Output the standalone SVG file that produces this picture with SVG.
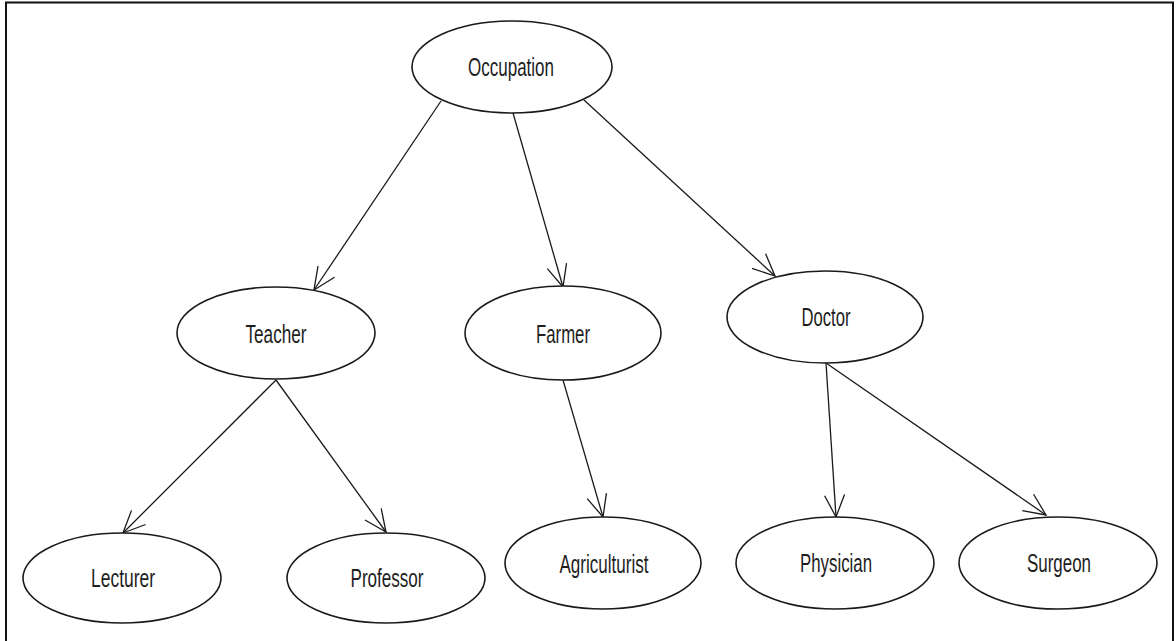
<svg xmlns="http://www.w3.org/2000/svg" width="1176" height="641" viewBox="0 0 1176 641">
  <style>
    .node ellipse { fill: #ffffff; stroke: #1a1a1a; stroke-width: 1.6; }
    .node text { font-family: "Liberation Sans", Arial, sans-serif; font-size: 26px; fill: #1e1e1e; text-anchor: middle; }
    .edge { fill: none; stroke: #1a1a1a; stroke-width: 1.3; marker-end: url(#vhead); }
  </style>
  <defs>
    <marker id="vhead" markerUnits="userSpaceOnUse" viewBox="0 0 26 22" refX="24" refY="11" markerWidth="26" markerHeight="22" orient="auto">
      <path d="M2,1 L24,11 L2,21" fill="none" stroke="#1a1a1a" stroke-width="1.3"/>
    </marker>
  </defs>
  <rect width="1176" height="641" fill="#ffffff"/>
  <!-- frame -->
  <path d="M6,641 V2.5 H1173 V641" fill="none" stroke="#111" stroke-width="2"/>

  <g id="connectors">
    <line class="edge" x1="441" y1="101" x2="314" y2="290"/>
    <line class="edge" x1="513" y1="113" x2="563" y2="287"/>
    <line class="edge" x1="584" y1="100" x2="775" y2="276"/>
    <line class="edge" x1="276" y1="380" x2="123" y2="533"/>
    <line class="edge" x1="276" y1="380" x2="386" y2="532"/>
    <line class="edge" x1="563" y1="380" x2="603" y2="517"/>
    <line class="edge" x1="826" y1="363" x2="836" y2="517"/>
    <line class="edge" x1="826" y1="363" x2="1046" y2="515"/>
  </g>

  <g id="occupation" class="node">
    <ellipse cx="512" cy="67" rx="100" ry="46"/>
    <text x="511" y="76" textLength="86" lengthAdjust="spacingAndGlyphs">Occupation</text>
  </g>
  <g id="teacher" class="node">
    <ellipse cx="276" cy="333" rx="99" ry="46"/>
    <text x="276" y="343" textLength="61" lengthAdjust="spacingAndGlyphs">Teacher</text>
  </g>
  <g id="farmer" class="node">
    <ellipse cx="563" cy="333" rx="98" ry="47"/>
    <text x="563" y="343" textLength="54" lengthAdjust="spacingAndGlyphs">Farmer</text>
  </g>
  <g id="doctor" class="node">
    <ellipse cx="825" cy="317" rx="98" ry="46"/>
    <text x="826" y="326" textLength="49" lengthAdjust="spacingAndGlyphs">Doctor</text>
  </g>
  <g id="lecturer" class="node">
    <ellipse cx="122" cy="578" rx="99" ry="45"/>
    <text x="123" y="587" textLength="64" lengthAdjust="spacingAndGlyphs">Lecturer</text>
  </g>
  <g id="professor" class="node">
    <ellipse cx="386" cy="578" rx="99" ry="45"/>
    <text x="387" y="587" textLength="73" lengthAdjust="spacingAndGlyphs">Professor</text>
  </g>
  <g id="agriculturist" class="node">
    <ellipse cx="603" cy="563" rx="98" ry="46"/>
    <text x="604" y="573" textLength="89" lengthAdjust="spacingAndGlyphs">Agriculturist</text>
  </g>
  <g id="physician" class="node">
    <ellipse cx="835" cy="563" rx="99" ry="46"/>
    <text x="836" y="572" textLength="72" lengthAdjust="spacingAndGlyphs">Physician</text>
  </g>
  <g id="surgeon" class="node">
    <ellipse cx="1058" cy="563" rx="99" ry="46"/>
    <text x="1059" y="572" textLength="64" lengthAdjust="spacingAndGlyphs">Surgeon</text>
  </g>
</svg>
